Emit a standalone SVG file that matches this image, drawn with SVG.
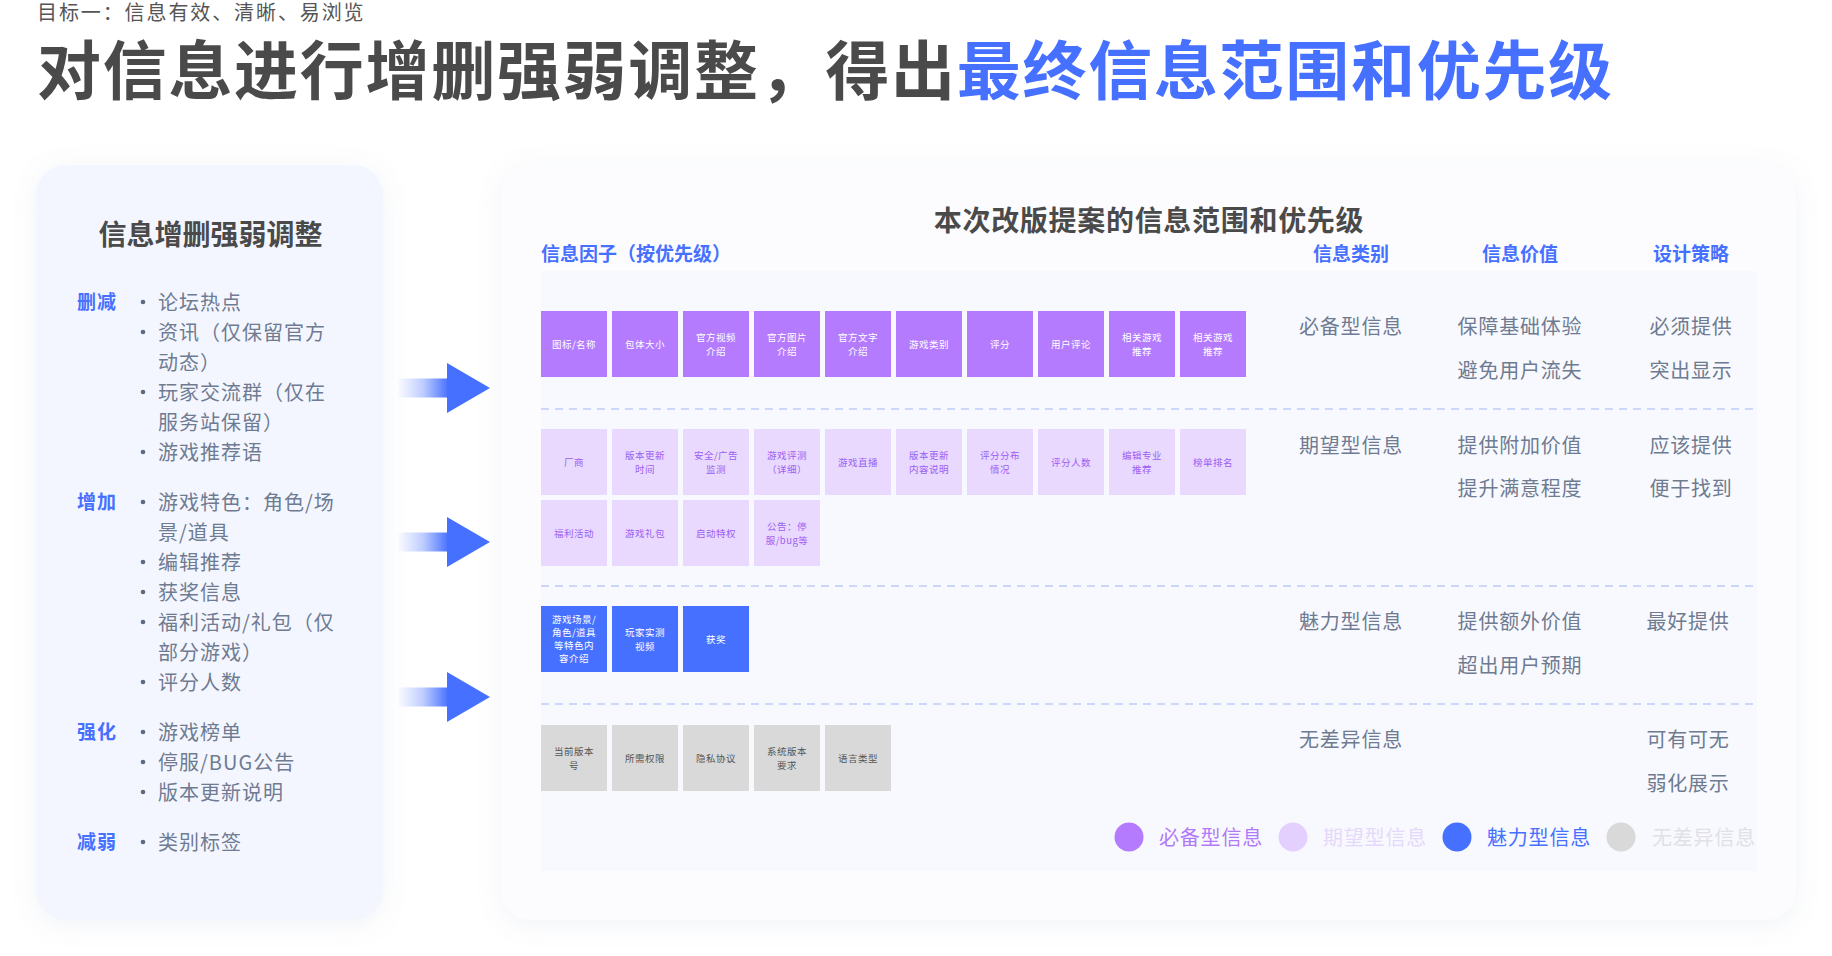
<svg xmlns="http://www.w3.org/2000/svg" width="1832" height="956" viewBox="0 0 1832 956">
<defs>
<style>
.cjk{font-family:"Noto Sans CJK SC","Noto Sans",sans-serif}
.title{font-size:64px;font-weight:700;fill:#4a4a4a;letter-spacing:1.7px}
.sub{font-size:20px;fill:#555;letter-spacing:1.9px}
.ph{font-size:28px;font-weight:700;fill:#4a4a4a}
.lab{font-size:19px;font-weight:700;fill:#4670ff;letter-spacing:1px}
.item{font-size:20px;fill:#6e7b91;letter-spacing:1px}
.hd{font-size:19px;font-weight:700;fill:#4670ff}
.col{font-size:20px;fill:#6e7b91;letter-spacing:0.8px;text-anchor:middle}
.bx{font-size:9.5px;letter-spacing:0.5px;text-anchor:middle}
.b1{fill:#b57bff}.t1{fill:#ffffff}
.b2{fill:#ead9ff}.t2{fill:#9a5ff2}
.b3{fill:#4670ff}.t3{fill:#ffffff}
.b4{fill:#d9d9d9}.t4{fill:#555555}
.dash{stroke:#cdd6fb;stroke-width:2;stroke-dasharray:8 6;fill:none}
.lg{font-size:20px;letter-spacing:0.8px}
</style>
<filter id="sh" x="-10%" y="-10%" width="120%" height="120%">
<feDropShadow dx="0" dy="4" stdDeviation="12" flood-color="#7080b0" flood-opacity="0.10"/>
</filter>
<linearGradient id="shaft" x1="0" y1="0" x2="1" y2="0">
<stop offset="0" stop-color="#4670ff" stop-opacity="0"/>
<stop offset="0.5" stop-color="#4670ff" stop-opacity="0.35"/>
<stop offset="1" stop-color="#4670ff" stop-opacity="1"/>
</linearGradient>
<g id="arrow">
<rect x="397" y="-9.5" width="52" height="19" fill="url(#shaft)"/>
<polygon points="447,-25 490,0 447,25" fill="#4670ff"/>
</g>
</defs>
<rect width="1832" height="956" fill="#ffffff"/>

<g id="header">
<text class="cjk sub" x="37" y="20">目标一：信息有效、清晰、易浏览</text>
<text class="cjk title" x="37" y="94">对信息进行增删强弱调整，得出<tspan fill="#4670ff">最终信息范围和优先级</tspan></text>
</g>

<g id="left-panel">
<rect x="36" y="165" width="347" height="755" rx="30" fill="#f4f6ff" filter="url(#sh)"/>
<text class="cjk ph" x="210.5" y="245" text-anchor="middle">信息增删强弱调整</text>
<g class="cjk">
<text class="lab" x="77" y="309">删减</text>
<text class="lab" x="77" y="509">增加</text>
<text class="lab" x="77" y="739">强化</text>
<text class="lab" x="77" y="849">减弱</text>
</g>
<g fill="#5a6a80">
<circle cx="143" cy="302" r="2.3"/><circle cx="143" cy="332" r="2.3"/><circle cx="143" cy="392" r="2.3"/><circle cx="143" cy="452" r="2.3"/>
<circle cx="143" cy="502" r="2.3"/><circle cx="143" cy="562" r="2.3"/><circle cx="143" cy="592" r="2.3"/><circle cx="143" cy="622" r="2.3"/><circle cx="143" cy="682" r="2.3"/>
<circle cx="143" cy="732" r="2.3"/><circle cx="143" cy="762" r="2.3"/><circle cx="143" cy="792" r="2.3"/>
<circle cx="143" cy="842" r="2.3"/>
</g>
<g class="cjk item">
<text x="158" y="309.5">论坛热点</text>
<text x="158" y="339.5">资讯（仅保留官方</text>
<text x="158" y="369.5">动态）</text>
<text x="158" y="399.5">玩家交流群（仅在</text>
<text x="158" y="429.5">服务站保留）</text>
<text x="158" y="459.5">游戏推荐语</text>
<text x="158" y="509.5">游戏特色：角色/场</text>
<text x="158" y="539.5">景/道具</text>
<text x="158" y="569.5">编辑推荐</text>
<text x="158" y="599.5">获奖信息</text>
<text x="158" y="629.5">福利活动/礼包（仅</text>
<text x="158" y="659.5">部分游戏）</text>
<text x="158" y="689.5">评分人数</text>
<text x="158" y="739.5">游戏榜单</text>
<text x="158" y="769.5">停服/BUG公告</text>
<text x="158" y="799.5">版本更新说明</text>
<text x="158" y="849.5">类别标签</text>
</g>
</g>

<g id="connectors">
<use href="#arrow" transform="translate(0,388)"/>
<use href="#arrow" transform="translate(0,542)"/>
<use href="#arrow" transform="translate(0,697)"/>
</g>

<g id="right-panel">
<rect x="501" y="165" width="1295" height="755" rx="30" fill="#fcfcfe" filter="url(#sh)"/>
<rect x="541" y="271" width="1216" height="600" fill="#f8f9fe"/>
<text class="cjk ph" x="1149" y="231" text-anchor="middle" letter-spacing="0.7">本次改版提案的信息范围和优先级</text>
<text class="cjk hd" x="541" y="261">信息因子（按优先级）</text>
<text class="cjk hd" x="1351" y="261" text-anchor="middle">信息类别</text>
<text class="cjk hd" x="1520" y="261" text-anchor="middle">信息价值</text>
<text class="cjk hd" x="1691" y="261" text-anchor="middle">设计策略</text>
<line class="dash" x1="541" y1="409" x2="1757" y2="409"/>
<line class="dash" x1="541" y1="586" x2="1757" y2="586"/>
<line class="dash" x1="541" y1="704" x2="1757" y2="704"/>
</g>

<g id="row-must">
<g class="b1">
<rect x="541" y="311" width="66" height="66"/><rect x="612" y="311" width="66" height="66"/><rect x="683" y="311" width="66" height="66"/><rect x="754" y="311" width="66" height="66"/><rect x="825" y="311" width="66" height="66"/>
<rect x="896" y="311" width="66" height="66"/><rect x="967" y="311" width="66" height="66"/><rect x="1038" y="311" width="66" height="66"/><rect x="1109" y="311" width="66" height="66"/><rect x="1180" y="311" width="66" height="66"/>
</g>
<g class="cjk bx t1">
<text x="574" y="347.5">图标/名称</text>
<text x="645" y="347.5">包体大小</text>
<text x="716" y="340.5">官方视频<tspan x="716" y="354.5">介绍</tspan></text>
<text x="787" y="340.5">官方图片<tspan x="787" y="354.5">介绍</tspan></text>
<text x="858" y="340.5">官方文字<tspan x="858" y="354.5">介绍</tspan></text>
<text x="929" y="347.5">游戏类别</text>
<text x="1000" y="347.5">评分</text>
<text x="1071" y="347.5">用户评论</text>
<text x="1142" y="340.5">相关游戏<tspan x="1142" y="354.5">推荐</tspan></text>
<text x="1213" y="340.5">相关游戏<tspan x="1213" y="354.5">推荐</tspan></text>
</g>
<g class="cjk col">
<text x="1351" y="333.5">必备型信息</text>
<text x="1520" y="333.5">保障基础体验</text>
<text x="1520" y="377.5">避免用户流失</text>
<text x="1691" y="333.5">必须提供</text>
<text x="1691" y="377.5">突出显示</text>
</g>
</g>

<g id="row-expected">
<g class="b2">
<rect x="541" y="429" width="66" height="66"/><rect x="612" y="429" width="66" height="66"/><rect x="683" y="429" width="66" height="66"/><rect x="754" y="429" width="66" height="66"/><rect x="825" y="429" width="66" height="66"/>
<rect x="896" y="429" width="66" height="66"/><rect x="967" y="429" width="66" height="66"/><rect x="1038" y="429" width="66" height="66"/><rect x="1109" y="429" width="66" height="66"/><rect x="1180" y="429" width="66" height="66"/>
<rect x="541" y="500" width="66" height="66"/><rect x="612" y="500" width="66" height="66"/><rect x="683" y="500" width="66" height="66"/><rect x="754" y="500" width="66" height="66"/>
</g>
<g class="cjk bx t2">
<text x="574" y="465.5">厂商</text>
<text x="645" y="458.5">版本更新<tspan x="645" y="472.5">时间</tspan></text>
<text x="716" y="458.5">安全/广告<tspan x="716" y="472.5">监测</tspan></text>
<text x="787" y="458.5">游戏评测<tspan x="787" y="472.5">（详细）</tspan></text>
<text x="858" y="465.5">游戏直播</text>
<text x="929" y="458.5">版本更新<tspan x="929" y="472.5">内容说明</tspan></text>
<text x="1000" y="458.5">评分分布<tspan x="1000" y="472.5">情况</tspan></text>
<text x="1071" y="465.5">评分人数</text>
<text x="1142" y="458.5">编辑专业<tspan x="1142" y="472.5">推荐</tspan></text>
<text x="1213" y="465.5">榜单排名</text>
<text x="574" y="536.5">福利活动</text>
<text x="645" y="536.5">游戏礼包</text>
<text x="716" y="536.5">启动特权</text>
<text x="787" y="529.5">公告：停<tspan x="787" y="543.5">服/bug等</tspan></text>
</g>
<g class="cjk col">
<text x="1351" y="452.5">期望型信息</text>
<text x="1520" y="452.5">提供附加价值</text>
<text x="1520" y="495.5">提升满意程度</text>
<text x="1691" y="452.5">应该提供</text>
<text x="1691" y="495.5">便于找到</text>
</g>
</g>

<g id="row-attractive">
<g class="b3">
<rect x="541" y="606" width="66" height="66"/><rect x="612" y="606" width="66" height="66"/><rect x="683" y="606" width="66" height="66"/>
</g>
<g class="cjk bx t3">
<text x="574" y="623">游戏场景/<tspan x="574" y="636">角色/道具</tspan><tspan x="574" y="649">等特色内</tspan><tspan x="574" y="662">容介绍</tspan></text>
<text x="645" y="635.5">玩家实测<tspan x="645" y="649.5">视频</tspan></text>
<text x="716" y="642.5">获奖</text>
</g>
<g class="cjk col">
<text x="1351" y="628.5">魅力型信息</text>
<text x="1520" y="628.5">提供额外价值</text>
<text x="1520" y="672.5">超出用户预期</text>
<text x="1688" y="628.5">最好提供</text>
</g>
</g>

<g id="row-indifferent">
<g class="b4">
<rect x="541" y="725" width="66" height="66"/><rect x="612" y="725" width="66" height="66"/><rect x="683" y="725" width="66" height="66"/><rect x="754" y="725" width="66" height="66"/><rect x="825" y="725" width="66" height="66"/>
</g>
<g class="cjk bx t4">
<text x="574" y="754.5">当前版本<tspan x="574" y="768.5">号</tspan></text>
<text x="645" y="761.5">所需权限</text>
<text x="716" y="761.5">隐私协议</text>
<text x="787" y="754.5">系统版本<tspan x="787" y="768.5">要求</tspan></text>
<text x="858" y="761.5">语言类型</text>
</g>
<g class="cjk col">
<text x="1351" y="746.5">无差异信息</text>
<text x="1688" y="746.5">可有可无</text>
<text x="1688" y="790.5">弱化展示</text>
</g>
</g>

<g id="legend">
<circle cx="1129" cy="837" r="14.5" fill="#b57bff"/>
<text class="cjk lg" x="1159" y="844.6" fill="#b27af8">必备型信息</text>
<circle cx="1293" cy="837" r="14.5" fill="#e4d0ff"/>
<text class="cjk lg" x="1323" y="844.6" fill="#e6d8fb">期望型信息</text>
<circle cx="1457" cy="837" r="14.5" fill="#4670ff"/>
<text class="cjk lg" x="1487" y="844.6" fill="#4670ff">魅力型信息</text>
<circle cx="1621" cy="837" r="14.5" fill="#d9d9d9"/>
<text class="cjk lg" x="1652" y="844.6" fill="#e0e0e6">无差异信息</text>
</g>
</svg>
